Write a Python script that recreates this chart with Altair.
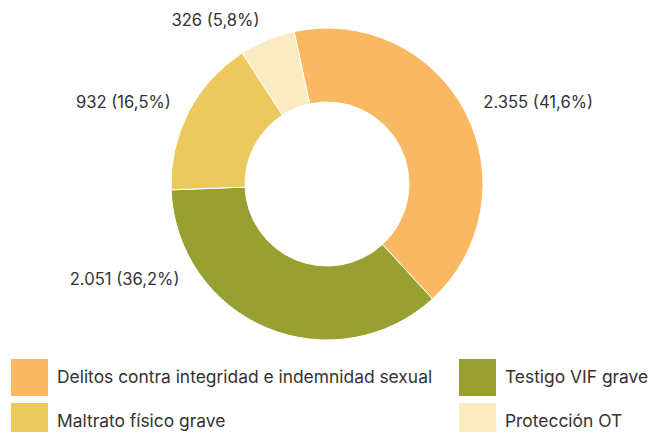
import math
import altair as alt
import pandas as pd

categories = [
    "Delitos contra integridad e indemnidad sexual",
    "Testigo VIF grave",
    "Maltrato físico grave",
    "Protección OT",
]
values = [2355, 2051, 932, 326]
colors = ["#F9B862", "#98A032", "#ECC95C", "#FBEBC0"]

total = sum(values)


def fmt_int(v):
    return f"{v:,}".replace(",", ".")


def fmt_pct(v):
    return f"{v / total * 100:.1f}".replace(".", ",")


labels = [f"{fmt_int(v)} ({fmt_pct(v)}%)" for v in values]

df = pd.DataFrame(
    {"category": categories, "value": values, "label": labels, "idx": list(range(len(values)))}
)

# legend is laid out column by column: order entries so rows read like the original
legend_order = [categories[0], categories[2], categories[1], categories[3]]
color_of = dict(zip(categories, colors))
color_scale = alt.Scale(domain=legend_order, range=[color_of[c] for c in legend_order])

start = -math.radians(12.2)
theta_scale = alt.Scale(domain=[0, total], range=[start, start + 2 * math.pi])

base = alt.Chart(df)

arcs = base.mark_arc(outerRadius=156, innerRadius=82, stroke="white", strokeWidth=1).encode(
    theta=alt.Theta("value:Q", stack=True, scale=theta_scale),
    color=alt.Color(
        "category:N",
        scale=color_scale,
        legend=alt.Legend(
            title=None,
            orient="none",
            legendX=3,
            legendY=351,
            columns=2,
            symbolType="square",
            symbolSize=1369,
            symbolStrokeWidth=0,
            symbolOpacity=1,
            labelFont="Inter",
            labelFontSize=17.4,
            labelColor="#333333",
            labelLimit=1000,
            labelOffset=9,
            rowPadding=7,
            columnPadding=26,
        ),
    ),
    order=alt.Order("idx:Q"),
)

# label anchors: slice mid-angle, kept above the legend (labels that would fall
# too low slide up along the label circle, as in the original layout)
LABEL_R = 176
LIM = 0.545
lab = (
    base.transform_window(cum="sum(value)", sort=[alt.SortField("idx")], frame=[None, 0])
    .transform_calculate(mid="datum.cum - datum.value / 2")
    .transform_calculate(ang=f"{start} + datum.mid / {total} * 2 * PI")
    .transform_calculate(
        ang2=f"cos(datum.ang) < -{LIM} ? (sin(datum.ang) < 0 ? 2 * PI - acos(-{LIM}) : acos(-{LIM})) : datum.ang"
    )
    .transform_calculate(lmid=f"(datum.ang2 - ({start})) / (2 * PI) * {total}")
)

text_style = dict(radius=LABEL_R, baseline="middle", font="Inter", fontSize=16.6, color="#333333")

right = lab.transform_filter("sin(datum.ang2) >= 0").mark_text(
    align="left", **text_style
).encode(
    theta=alt.Theta("lmid:Q", stack=False, scale=theta_scale),
    text="label:N",
)

left = lab.transform_filter("sin(datum.ang2) < 0").mark_text(
    align="right", **text_style
).encode(
    theta=alt.Theta("lmid:Q", stack=False, scale=theta_scale),
    text="label:N",
)

chart = (
    alt.layer(arcs, right, left)
    .properties(
        width=638,
        height=352,
        padding={"left": 0, "top": 0, "right": 2, "bottom": 72},
        autosize=alt.AutoSizeParams(type="none"),
    )
    .configure_view(strokeWidth=0)
)

chart.save("out.html", embed_options={"renderer": "svg", "actions": False})
